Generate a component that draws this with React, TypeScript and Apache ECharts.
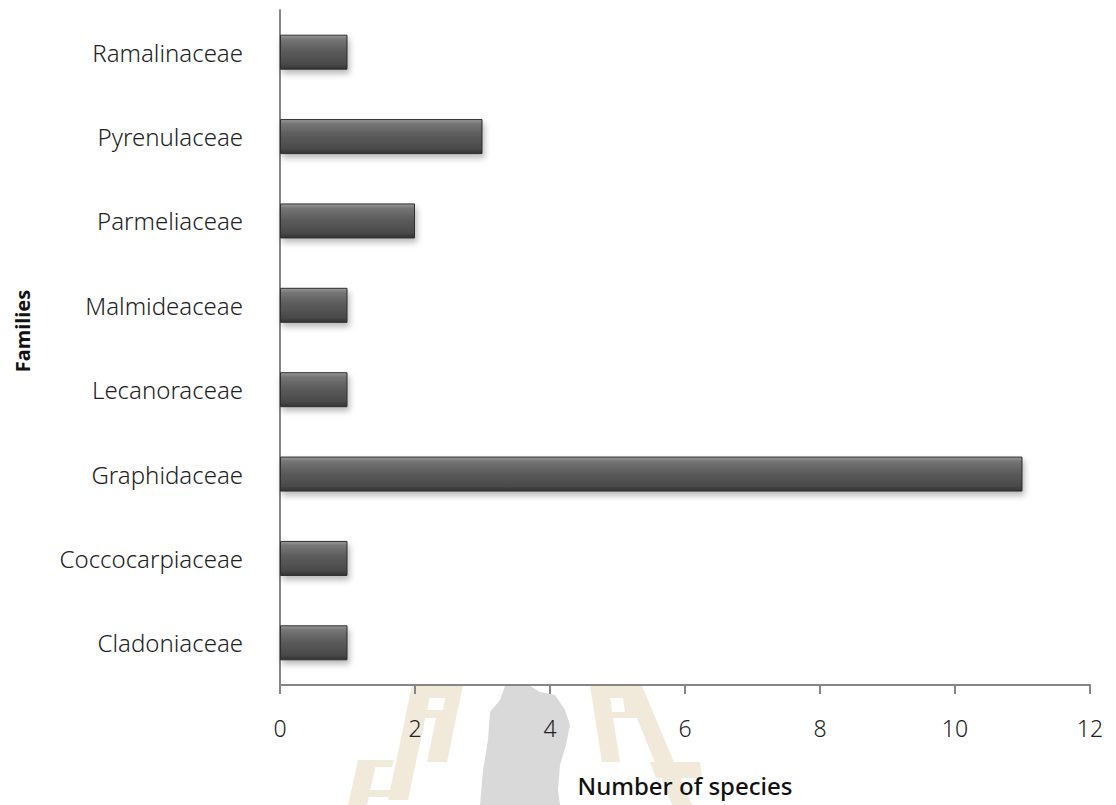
import React, { useEffect, useRef } from "react";
import * as echarts from "echarts";

const families = [
  "Cladoniaceae",
  "Coccocarpiaceae",
  "Graphidaceae",
  "Lecanoraceae",
  "Malmideaceae",
  "Parmeliaceae",
  "Pyrenulaceae",
  "Ramalinaceae",
];
const speciesCounts = [1, 1, 11, 1, 1, 2, 3, 1];
const xTicks = [0, 2, 4, 6, 8, 10, 12];

const FONT = "'Noto Sans', 'Open Sans', sans-serif";
const BEIGE = "#f1e9da";
const GRAY = "#d9d9d9";

function poly(points: number[][], fill: string) {
  return {
    type: "polygon",
    silent: true,
    z: -10,
    shape: { points },
    style: { fill },
  };
}

export default function App() {
  const ref = useRef<HTMLDivElement>(null);

  useEffect(() => {
    if (!ref.current) return;
    const chart = echarts.init(ref.current, undefined, { renderer: "svg" });

    const watermark = [
      // left "J/A" mark
      poly([[412, 686], [463, 686], [456, 718], [405, 718]], BEIGE),
      poly([[429, 698], [445, 698], [443, 710], [427, 710]], "#ffffff"),
      poly([[436, 718], [456, 718], [447, 762], [427, 762]], BEIGE),
      poly([[412, 686], [432, 686], [408, 800], [388, 800]], BEIGE),
      poly([[358, 760], [394, 760], [392, 767], [357, 767]], BEIGE),
      poly([[358, 760], [377, 760], [367, 805], [348, 805]], BEIGE),
      poly([[367, 790], [397, 790], [395, 797], [365, 797]], BEIGE),
      // grey silhouette
      poly(
        [
          [505, 686], [530, 686], [540, 692], [555, 695], [565, 710], [570, 725],
          [566, 745], [560, 765], [558, 790], [560, 805], [480, 805], [483, 770],
          [488, 740], [490, 712], [500, 700],
        ],
        GRAY
      ),
      // right "A" mark
      poly([[590, 686], [640, 686], [647, 718], [597, 718]], BEIGE),
      poly([[610, 698], [623, 698], [625, 712], [612, 712]], "#ffffff"),
      poly([[590, 686], [608, 686], [620, 762], [602, 762]], BEIGE),
      poly([[624, 686], [642, 686], [692, 805], [672, 805]], BEIGE),
      poly([[650, 762], [700, 762], [702, 778], [656, 778]], BEIGE),
    ];

    chart.setOption({
      animation: false,
      backgroundColor: "#ffffff",
      grid: { left: 280, right: 26, top: 10, bottom: 120, containLabel: false },
      xAxis: {
        type: "value",
        min: 0,
        max: 12,
        interval: 2,
        name: "Number of species",
        nameLocation: "middle",
        nameGap: 88,
        nameTextStyle: { fontFamily: FONT, fontSize: 24, fontWeight: 500, color: "#111" },
        axisLine: { show: true, lineStyle: { color: "#868686", width: 2 } },
        axisTick: { show: true, length: 9, lineStyle: { color: "#868686", width: 2 } },
        axisLabel: {
          margin: 31,
          fontFamily: FONT,
          fontSize: 23,
          fontWeight: 300,
          color: "#222",
          formatter: (v: number) => (xTicks.includes(v) ? String(v) : ""),
        },
        splitLine: { show: false },
      },
      yAxis: {
        type: "category",
        data: families,
        axisLine: { show: true, lineStyle: { color: "#868686", width: 2 } },
        axisTick: { show: false },
        axisLabel: { margin: 37, fontFamily: FONT, fontSize: 24, fontWeight: 300, color: "#222" },
        splitLine: { show: false },
      },
      graphic: [
        ...watermark,
        {
          type: "text",
          x: 22,
          y: 331,
          rotation: Math.PI / 2,
          style: {
            text: "Families",
            fontFamily: FONT,
            fontSize: 20,
            fontWeight: "bold",
            fill: "#111",
            textAlign: "center",
            textVerticalAlign: "middle",
          },
        },
      ],
      series: [
        {
          type: "bar",
          data: speciesCounts,
          barWidth: 35,
          itemStyle: {
            color: new echarts.graphic.LinearGradient(0, 0, 0, 1, [
              { offset: 0, color: "#9a9a9a" },
              { offset: 0.12, color: "#767676" },
              { offset: 0.45, color: "#5c5c5c" },
              { offset: 0.85, color: "#4a4a4a" },
              { offset: 1, color: "#333333" },
            ]),
            borderColor: "#2f2f2f",
            borderWidth: 1,
            shadowColor: "rgba(0,0,0,0.28)",
            shadowBlur: 6,
            shadowOffsetX: 2,
            shadowOffsetY: 4,
          },
        },
      ],
    });

    return () => chart.dispose();
  }, []);

  return (
    <div
      ref={ref}
      style={{ position: "absolute", left: 0, top: 0, width: 1116, height: 805 }}
    />
  );
}
